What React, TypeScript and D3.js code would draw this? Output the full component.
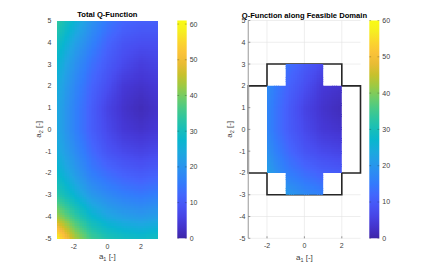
import React, { useMemo } from 'react';
import * as d3 from 'd3';

// grid: Q value at every (a1, a2) node
const a1Nodes = [-3, -2, -1, 0, 1, 2, 3];
const a2Nodes = [5, 4, 3, 2, 1, 0, -1, -2, -3, -4, -5];
const qRows = [
  [34, 27, 20, 15, 12, 11, 11],
  [30, 23, 17, 12, 9, 8, 8],
  [27, 20, 14, 10, 7, 5, 6],
  [25, 18, 12, 8, 4, 3, 4],
  [24, 17, 11, 6, 3, 1.5, 3],
  [24, 17, 11, 7, 4, 3, 4],
  [25, 19, 13, 9, 7, 6, 7],
  [28, 22, 16, 13, 11, 10, 11],
  [33, 27, 21, 18, 16, 15, 16],
  [43, 35, 28, 24, 22, 21, 22],
  [59, 45, 36, 32, 30, 29, 30],
];

const a1Ticks = [-2, 0, 2];
const a2Ticks = [5, 4, 3, 2, 1, 0, -1, -2, -3, -4, -5];
const barTicks = [0, 10, 20, 30, 40, 50, 60];
const leftLimit = 61;
const rightLimit = 60;

// feasible domain outline and the part of it that carries the Q colours
const domainOutline: [number, number][] = [
  [-2, 3], [2, 3], [2, 2], [3, 2], [3, -2], [2, -2], [2, -3],
  [-2, -3], [-2, -2], [-3, -2], [-3, 2], [-2, 2],
];
const domainFilled: [number, number][] = [
  [-1, 3], [1, 3], [1, 2], [2, 2], [2, -2], [1, -2], [1, -3],
  [-1, -3], [-1, -2], [-2, -2], [-2, 2], [-1, 2],
];

// parula stops
const parula = [
  [0.2422, 0.1504, 0.6603], [0.2706, 0.2147, 0.8364], [0.2813, 0.3006, 0.9414],
  [0.2699, 0.3892, 0.9906], [0.1963, 0.4847, 0.9892], [0.1687, 0.5703, 0.9359],
  [0.1248, 0.6459, 0.8883], [0.0297, 0.7082, 0.8163], [0.0964, 0.75, 0.712],
  [0.2161, 0.7843, 0.5923], [0.3909, 0.8029, 0.4354], [0.6174, 0.7876, 0.2612],
  [0.8203, 0.7498, 0.1535], [0.9728, 0.7298, 0.2394], [0.9892, 0.8136, 0.1885],
  [0.9628, 0.9373, 0.1265], [0.9769, 0.9839, 0.0805],
];
const parulaPos = [0, 4, 8, 12, 16, 20, 24, 28, 32, 36, 40, 44, 48, 52, 56, 60, 63].map(i => i / 63);
const parulaScale = d3
  .scaleLinear<string>()
  .domain(parulaPos)
  .range(parula.map(c => d3.rgb(c[0] * 255, c[1] * 255, c[2] * 255).toString()))
  .clamp(true);

const FONT = '"Liberation Sans", Arial, Helvetica, sans-serif';
const TXT = '#404040';

const top = 20.5;
const bottom = 238.3;

// bilinear lookup between the grid nodes (display shading only)
function qAt(a1: number, a2: number) {
  const fx = Math.max(0, Math.min(a1Nodes.length - 1.0001, a1 - a1Nodes[0]));
  const fy = Math.max(0, Math.min(a2Nodes.length - 1.0001, a2Nodes[0] - a2));
  const i = Math.floor(fx), j = Math.floor(fy);
  const tx = fx - i, ty = fy - j;
  const v00 = qRows[j][i], v10 = qRows[j][i + 1];
  const v01 = qRows[j + 1][i], v11 = qRows[j + 1][i + 1];
  return (v00 * (1 - tx) + v10 * tx) * (1 - ty) + (v01 * (1 - tx) + v11 * tx) * ty;
}

function makeCells() {
  const cells: { a1: number; a2: number; q: number }[] = [];
  const step = 0.1;
  for (let a1 = -3; a1 < 3 - 1e-9; a1 += step) {
    for (let a2 = -5; a2 < 5 - 1e-9; a2 += step) {
      cells.push({ a1, a2, q: qAt(a1 + step / 2, a2 + step / 2) });
    }
  }
  return cells;
}

function Heat({ x, y, limit, cells, clip }: any) {
  const c = d3.scaleLinear().domain([0, limit]).range([0, 1]);
  const w = x(0.1) - x(0) + 0.4;
  const h = y(0) - y(0.1) + 0.4;
  return (
    <g clipPath={clip} shapeRendering="crispEdges">
      {cells.map((d: any, k: number) => (
        <rect key={k} x={x(d.a1)} y={y(d.a2 + 0.1)} width={w} height={h} fill={parulaScale(c(d.q))} />
      ))}
    </g>
  );
}

function ColorBar({ x0, x1, limit }: { x0: number; x1: number; limit: number }) {
  const s = d3.scaleLinear().domain([0, limit]).range([bottom, top]);
  const stops = d3.range(0, 1.0001, 0.05);
  const id = `cb${x0.toFixed(0)}`;
  return (
    <g>
      <defs>
        <linearGradient id={id} x1="0" y1="1" x2="0" y2="0">
          {stops.map(t => (
            <stop key={t} offset={t} stopColor={parulaScale(t)} />
          ))}
        </linearGradient>
      </defs>
      <rect x={x0} y={top} width={x1 - x0} height={bottom - top} fill={`url(#${id})`} />
      {barTicks.map(t => (
        <g key={t}>
          <line x1={x0} x2={x0 + 1.8} y1={s(t)} y2={s(t)} stroke="#262626" strokeOpacity={0.5} strokeWidth={0.6} />
          <line x1={x1 - 1.8} x2={x1} y1={s(t)} y2={s(t)} stroke="#262626" strokeOpacity={0.5} strokeWidth={0.6} />
          <text x={x1 + 3} y={s(t)} dy="0.35em" fontSize={7} fill={TXT} fontFamily={FONT}>
            {t}
          </text>
        </g>
      ))}
    </g>
  );
}

function AxisText({ x, y, cx, yLabelX, xLabelY, tickLabelY, yTickRight }: any) {
  return (
    <g fontFamily={FONT} fill={TXT}>
      {a1Ticks.map(t => (
        <text key={'x' + t} x={x(t)} y={tickLabelY} textAnchor="middle" fontSize={7}>
          {t}
        </text>
      ))}
      {a2Ticks.map(t => (
        <text key={'y' + t} x={yTickRight} y={y(t)} dy="0.35em" textAnchor="end" fontSize={7}>
          {t}
        </text>
      ))}
      <text x={cx} y={xLabelY} textAnchor="middle" fontSize={8}>
        a<tspan fontSize={5.5} dy={2}>1</tspan>
        <tspan dy={-2}> [-]</tspan>
      </text>
      <text transform={`translate(${yLabelX},${(top + bottom) / 2}) rotate(-90)`} textAnchor="middle" fontSize={8}>
        a<tspan fontSize={5.5} dy={2}>2</tspan>
        <tspan dy={-2}> [-]</tspan>
      </text>
    </g>
  );
}

export default function App() {
  const cells = useMemo(makeCells, []);

  const y = d3.scaleLinear().domain([-5, 5]).range([bottom, top]);
  const xL = d3.scaleLinear().domain([-3, 3]).range([57, 157.7]);
  const xR = d3.scaleLinear().domain([-3, 3]).range([248.3, 360.5]);

  const polyR = (pts: [number, number][]) =>
    d3.line<[number, number]>().x(p => xR(p[0])).y(p => y(p[1]))(pts) + 'Z';

  return (
    <svg width={435} height={268} style={{ position: 'absolute', left: 0, top: 0, background: '#fff' }}>
      <defs>
        <clipPath id="feasible">
          <path d={polyR(domainFilled)} />
        </clipPath>
      </defs>

      {/* left panel */}
      <Heat x={xL} y={y} limit={leftLimit} cells={cells} />
      <text x={(57 + 157.7) / 2} y={17} textAnchor="middle" fontSize={7.6} fontWeight="bold" fill="#000" fontFamily={FONT}>
        Total Q-Function
      </text>
      <AxisText x={xL} y={y} cx={(57 + 157.7) / 2} yLabelX={41} xLabelY={258.5} tickLabelY={248.5} yTickRight={51.5} />
      <ColorBar x0={177.3} x1={186.7} limit={leftLimit} />

      {/* right panel */}
      <g stroke="#e3e3e3" strokeWidth={0.6}>
        {a1Ticks.map(t => (
          <line key={'gx' + t} x1={xR(t)} x2={xR(t)} y1={top} y2={bottom} />
        ))}
        {a2Ticks.map(t => (
          <line key={'gy' + t} x1={xR(-3)} x2={xR(3)} y1={y(t)} y2={y(t)} />
        ))}
      </g>
      <path d={polyR(domainOutline)} fill="#fff" stroke="#262626" strokeWidth={1.6} />
      <Heat x={xR} y={y} limit={rightLimit} cells={cells} clip="url(#feasible)" />
      <line x1={xR(-3)} x2={xR(-3)} y1={top} y2={bottom} stroke="#b0b0b0" strokeWidth={1.3} />
      <g stroke="#555" strokeWidth={0.6}>
        {a2Ticks.map(t => (
          <line key={'ty' + t} x1={xR(-3)} x2={xR(-3) + 2} y1={y(t)} y2={y(t)} />
        ))}
        {a1Ticks.map(t => (
          <line key={'tx' + t} x1={xR(t)} x2={xR(t)} y1={bottom} y2={bottom - 2} />
        ))}
      </g>
      <text x={(248.3 + 360.5) / 2} y={18.3} textAnchor="middle" fontSize={7.6} fontWeight="bold" fill="#000" fontFamily={FONT}>
        Q-Function along Feasible Domain
      </text>
      <AxisText x={xR} y={y} cx={(248.3 + 360.5) / 2} yLabelX={231.5} xLabelY={259.5} tickLabelY={248} yTickRight={245.5} />
      <ColorBar x0={369.3} x1={379.3} limit={rightLimit} />
    </svg>
  );
}
